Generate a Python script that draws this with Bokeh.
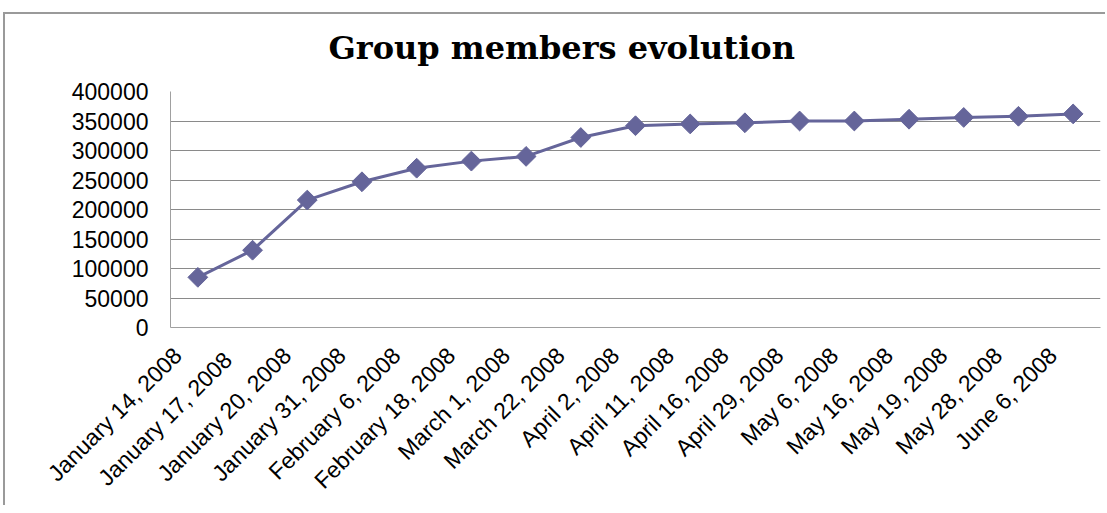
import math
from bokeh.plotting import figure
from bokeh.models import (Range1d, FixedTicker, BasicTickFormatter, Title,
                          LinearAxis, ColumnDataSource)
from bokeh.embed import file_html
from bokeh.resources import INLINE

# ---- data ----
dates = ["January 14, 2008", "January 17,  2008", "January 20, 2008",
         "January 31, 2008", "February 6, 2008", "February 18, 2008",
         "March 1, 2008", "March 22, 2008", "April 2, 2008", "April 11, 2008",
         "April 16, 2008", "April 29, 2008", "May 6, 2008", "May 16, 2008",
         "May 19, 2008", "May 28, 2008", "June 6, 2008"]
members = [85000, 131000, 216000, 247000, 270000, 282000, 290000, 322000,
           342000, 345000, 347000, 350000, 350000, 353000, 356000, 358000,
           362000]
y_ticks = [0, 50000, 100000, 150000, 200000, 250000, 300000, 350000, 400000]
title_text = "Group members evolution"

LINE = "#65659A"
GRID = "#8a8a8a"
AXIS = "#a0a0a0"
BORDER = "#9a9a9a"
LABEL_FONT = "Liberation Sans"
LABEL_SIZE = "23px"

n = len(dates)
centres = [i + 0.5 for i in range(n)]          # category slot centres
src = ColumnDataSource(dict(x=centres, y=members, date=dates))

p = figure(x_range=Range1d(0, n), y_range=Range1d(0, 400000),
           x_axis_location=None,
           width=1105, height=505, output_backend="svg", toolbar_location=None,
           min_border_left=170, min_border_right=5, min_border_top=91,
           min_border_bottom=175)

p.add_layout(Title(text=title_text, align="left", offset=158, standoff=46,
                   vertical_align="top",
                   text_font="DejaVu Serif", text_font_style="bold",
                   text_font_size="32px", text_color="#000000"), "above")

p.outline_line_color = None
p.background_fill_color = "white"
p.border_fill_color = None
# outer chart frame (top and left edges) drawn as the element background
p.styles = {
    "background-color": "white",
    "background-image": f"linear-gradient({BORDER},{BORDER}), linear-gradient({BORDER},{BORDER})",
    "background-size": "100% 2px, 2px 100%",
    "background-position": "4px 12px, 3px 12px",
    "background-repeat": "no-repeat",
}

p.xgrid.grid_line_color = None
p.ygrid.grid_line_color = GRID
p.ygrid.grid_line_width = 1

p.yaxis.ticker = FixedTicker(ticks=y_ticks)
p.yaxis.formatter = BasicTickFormatter(use_scientific=False)
p.yaxis.axis_line_color = AXIS
p.yaxis.major_tick_line_color = None
p.yaxis.minor_tick_line_color = None
p.yaxis.major_tick_out = 0
p.yaxis.major_tick_in = 0
p.yaxis.major_label_text_font = LABEL_FONT
p.yaxis.major_label_text_font_size = LABEL_SIZE
p.yaxis.major_label_text_color = "#000000"
p.yaxis.major_label_standoff = 22

# category axis: labels sit a little to the left of the slot centres,
# as in the original chart
shift = 0.37
p.extra_x_ranges = {"labels": Range1d(shift, n + shift)}
lab_axis = LinearAxis(x_range_name="labels",
                      ticker=FixedTicker(ticks=centres),
                      major_label_overrides={c: d for c, d in zip(centres, dates)},
                      axis_line_color=AXIS, major_tick_line_color=None,
                      minor_tick_line_color=None, major_tick_out=0,
                      major_tick_in=0, major_label_orientation=math.pi / 4,
                      major_label_standoff=24,
                      major_label_text_font=LABEL_FONT,
                      major_label_text_font_size=LABEL_SIZE,
                      major_label_text_color="#000000")
p.add_layout(lab_axis, "below")

p.line("x", "y", source=src, line_color=LINE, line_width=3)
p.scatter("x", "y", source=src, marker="square", angle=math.pi / 4, size=14,
          fill_color=LINE, line_color=LINE)

open("out.html", "w").write(file_html(p, INLINE))
